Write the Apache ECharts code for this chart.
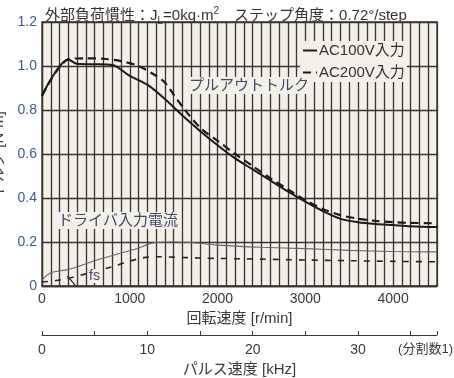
<!DOCTYPE html>
<html><head><meta charset="utf-8">
<script src="https://cdn.jsdelivr.net/npm/echarts@6/dist/echarts.min.js"></script>
<style>html,body{margin:0;padding:0;background:#fff}#c{width:454px;height:378px}</style>
</head><body><div id="c"></div>
<script>
// Pull-out torque, AC100V input (solid)
var t100X = [0, 300, 400, 600, 800, 1000, 1200, 1400, 1600, 1800, 2000, 2200, 2400, 2600, 2800, 3000, 3200, 3400, 3600, 3800, 4000, 4200, 4500];
var t100Y = [0.865, 1.03, 1.01, 1.008, 1.005, 0.955, 0.915, 0.85, 0.775, 0.705, 0.64, 0.58, 0.53, 0.48, 0.43, 0.383, 0.34, 0.305, 0.29, 0.282, 0.277, 0.272, 0.268];
// Pull-out torque, AC200V input (dashed)
var t200X = [0, 300, 500, 700, 900, 1100, 1300, 1400, 1500, 1600, 1800, 2000, 2200, 2400, 2600, 2800, 3000, 3200, 3400, 3600, 3800, 4000, 4200, 4500];
var t200Y = [0.865, 1.03, 1.035, 1.033, 1.022, 1.0, 0.955, 0.925, 0.87, 0.815, 0.72, 0.66, 0.6, 0.545, 0.49, 0.44, 0.39, 0.35, 0.322, 0.306, 0.296, 0.29, 0.287, 0.285];
// Driver input current, AC100V (thin solid)
var c100X = [0, 100, 300, 600, 900, 1100, 1250, 1500, 1700, 2000, 2500, 3000, 3500, 4000, 4500];
var c100Y = [0.027, 0.06, 0.075, 0.115, 0.15, 0.172, 0.195, 0.2, 0.198, 0.186, 0.176, 0.17, 0.162, 0.157, 0.155];
// Driver input current, AC200V (dashed)
var c200X = [0, 200, 500, 800, 1000, 1150, 1300, 1800, 2500, 3000, 3500, 4000, 4500];
var c200Y = [0.018, 0.027, 0.055, 0.088, 0.113, 0.128, 0.133, 0.127, 0.122, 0.118, 0.115, 0.112, 0.11];

var yTicks = ['0', '0.2', '0.4', '0.6', '0.8', '1.0', '1.2'];
var rpmLabels = [0, 1000, 2000, 3000, 4000];
var khzLabels = [0, 10, 20, 30];

function pairs(xs, ys) { return xs.map(function (x, i) { return [x, ys[i]]; }); }

var FF = '"Liberation Sans", "Noto Sans CJK JP", sans-serif';
var GRID = '#3b3330';
var BG = '#f3f0ea';
var NOTE = '#3d4a66';

var chart = echarts.init(document.getElementById('c'));
chart.setOption({
  animation: false,
  backgroundColor: '#ffffff',
  textStyle: { fontFamily: FF },
  title: {
    text: '外部負荷慣性：J{s|L}=0kg·m{p|2}　ステップ角度：0.72°/step',
    left: 40, top: 1,
    textStyle: {
      fontFamily: FF, fontSize: 15, fontWeight: 'normal', color: '#333', lineHeight: 20,
      rich: {
        s: { fontFamily: FF, fontSize: 10, color: '#333', lineHeight: 10, verticalAlign: 'bottom' },
        p: { fontFamily: FF, fontSize: 10, color: '#333', lineHeight: 10, verticalAlign: 'top' }
      }
    }
  },
  grid: { left: 42, right: 17, top: 22, bottom: 92, containLabel: false, outerBoundsMode: 'none',
          show: true, backgroundColor: BG, borderColor: GRID, borderWidth: 1.3 },
  legend: {
    data: ['AC100V入力', 'AC200V入力'],
    orient: 'vertical', left: 300, top: 41,
    itemWidth: 14, itemHeight: 10, itemGap: 7,
    itemStyle: { opacity: 0 },
    backgroundColor: BG, padding: [2, 2, 2, 2],
    textStyle: { fontFamily: FF, fontSize: 15, color: '#333', padding: [0, 0, 0, -3] }
  },
  xAxis: [{
    type: 'value', min: 0, max: 4500, interval: 100,
    axisLine: { show: true, lineStyle: { color: GRID, width: 1.3 } },
    axisTick: { show: false },
    splitLine: { show: true, lineStyle: { color: GRID, width: 1.3 } },
    axisLabel: {
      margin: 6, fontFamily: FF, fontSize: 14, color: '#3a3838',
      formatter: function (v) { return rpmLabels.indexOf(v) >= 0 ? String(v) : ''; }
    },
    name: '回転速度 [r/min]', nameLocation: 'middle', nameGap: 23,
    nameTextStyle: { fontFamily: FF, fontSize: 15, color: '#3a3838' }
  }, {
    type: 'value', min: 0, max: 37.5, interval: 5, position: 'bottom', offset: 49,
    axisLine: { show: true, lineStyle: { color: '#3a3838', width: 1 } },
    axisTick: { show: true, inside: true, length: 4, lineStyle: { color: '#3a3838' } },
    splitLine: { show: false },
    axisLabel: {
      margin: 8, fontFamily: FF, fontSize: 14, color: '#3a3838',
      formatter: function (v) { return khzLabels.indexOf(v) >= 0 ? String(v) : ''; }
    },
    name: 'パルス速度 [kHz]', nameLocation: 'middle', nameGap: 26,
    nameTextStyle: { fontFamily: FF, fontSize: 15, color: '#3a3838' }
  }],
  yAxis: {
    type: 'value', min: 0, max: 1.2, interval: 0.2,
    axisLine: { show: true, lineStyle: { color: GRID, width: 1.3 } },
    axisTick: { show: false },
    splitLine: { show: true, lineStyle: { color: GRID, width: 1.3 } },
    axisLabel: {
      margin: 5, fontFamily: FF, fontSize: 14, color: '#3d5a8f',
      formatter: function (v) { return yTicks[Math.round(v / 0.2)]; }
    },
    name: 'トルク [N·m]', nameLocation: 'middle', nameGap: 28,
    nameTextStyle: { fontFamily: FF, fontSize: 15, color: '#3a3838' }
  },
  series: [{
    name: 'AC100V入力', type: 'line', data: pairs(t100X, t100Y), symbol: 'none', smooth: 0.3,
    lineStyle: { color: '#1e1a1a', width: 2 }, itemStyle: { color: '#1e1a1a' }, z: 5
  }, {
    name: 'AC200V入力', type: 'line', data: pairs(t200X, t200Y), symbol: 'none', smooth: 0.3,
    lineStyle: { color: '#1e1a1a', width: 2.2, type: [8, 5] }, itemStyle: { color: '#1e1a1a' }, z: 5
  }, {
    name: '電流AC100V', type: 'line', data: pairs(c100X, c100Y), symbol: 'none', smooth: 0.3,
    lineStyle: { color: '#6a6464', width: 1.1 }, z: 4
  }, {
    name: '電流AC200V', type: 'line', data: pairs(c200X, c200Y), symbol: 'none', smooth: 0.3,
    lineStyle: { color: '#2a2424', width: 1.6, type: [6, 7] }, z: 4,
    markLine: {
      silent: true, symbol: ['none', 'arrow'], symbolSize: [0, 7],
      lineStyle: { color: '#2a2424', width: 1.2, type: 'solid' },
      label: { show: false },
      data: [[{ coord: [380, 0.003] }, { coord: [290, 0.045] }]]
    }
  }],
  graphic: [{
    type: 'text', left: 186, top: 77, z: 10,
    style: { text: 'プルアウトトルク', font: '15px ' + FF, fill: NOTE, backgroundColor: BG, padding: [1, 3, 1, 3] }
  }, {
    type: 'text', left: 56, top: 212, z: 10,
    style: { text: 'ドライバ入力電流', font: '15px ' + FF, fill: NOTE, backgroundColor: BG, padding: [1, 2, 1, 2] }
  }, {
    type: 'text', left: 88, top: 269, z: 10,
    style: { text: 'fs', font: '14px ' + FF, fill: NOTE, backgroundColor: BG, padding: [0, 1, 0, 1] }
  }, {
    type: 'text', right: 1, top: 343, z: 10,
    style: { text: '(分割数1)', font: '13px ' + FF, fill: '#3a3838' }
  }]
});
</script></body></html>
